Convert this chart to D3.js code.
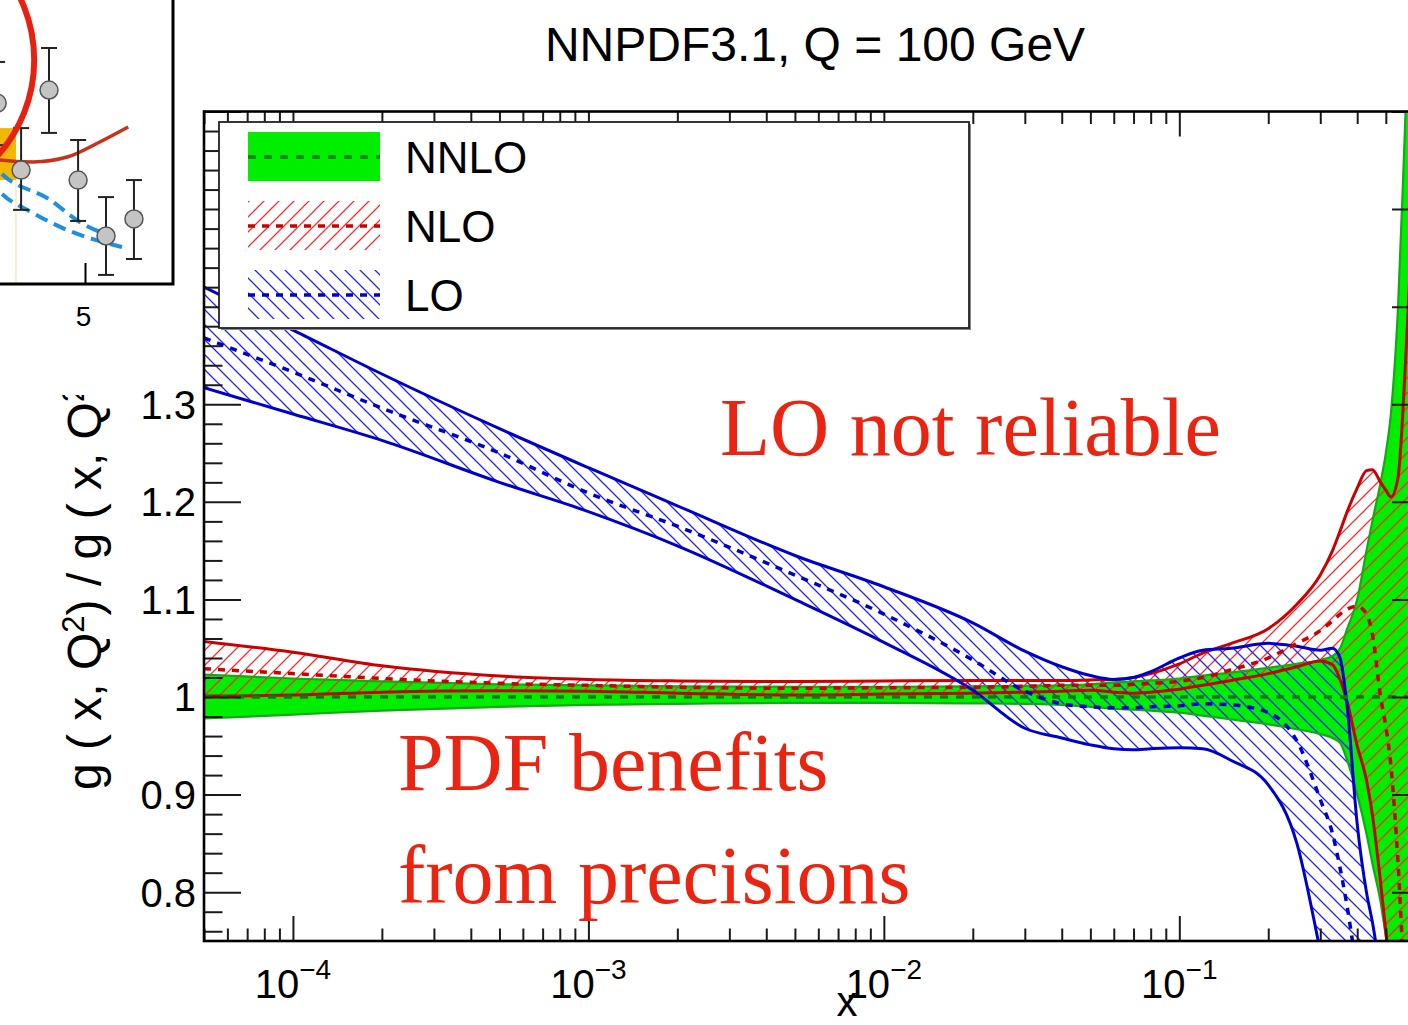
<!DOCTYPE html>
<html>
<head>
<meta charset="utf-8">
<script src="https://cdn.jsdelivr.net/npm/d3@7"></script>
<style>
  html, body { margin: 0; padding: 0; background: #fff; }
  svg { display: block; }
</style>
</head>
<body>
<svg id="chart" width="1408" height="1025"></svg>
<script>
// ---------------- DATA ----------------
const xGrid = [5e-5, 1e-4, 2e-4, 5e-4, 1e-3, 2e-3, 5e-3, 1e-2, 2e-2, 3e-2, 4e-2, 5e-2, 6e-2, 7e-2, 8e-2,
  0.1, 0.12, 0.15, 0.2, 0.25, 0.3, 0.33, 0.35, 0.37, 0.4, 0.43, 0.45, 0.48, 0.5, 0.52, 0.55, 0.58, 0.6, 0.65, 0.7];

const nnloHigh = [1.023, 1.019, 1.016, 1.013, 1.012, 1.011, 1.0105, 1.0105, 1.011, 1.0115, 1.012, 1.013, 1.015, 1.016, 1.017,
  1.019, 1.022, 1.025, 1.030, 1.034, 1.038, 1.042, 1.050, 1.070, 1.100, 1.150, 1.180, 1.220, 1.250, 1.290, 1.400, 1.580, 1.700, 1.900, 2.000];
const nnloLow = [0.978, 0.982, 0.986, 0.990, 0.992, 0.993, 0.994, 0.994, 0.9935, 0.993, 0.992, 0.990, 0.988, 0.987, 0.986,
  0.984, 0.981, 0.977, 0.972, 0.967, 0.962, 0.958, 0.953, 0.935, 0.900, 0.860, 0.830, 0.790, 0.755, 0.720, 0.700, 0.690, 0.680, 0.670, 0.660];
const nnloCentral = [1, 1, 1, 1, 1, 1, 1, 1, 1, 1, 1, 1, 1, 1, 1,
  1, 1, 1, 1, 1, 1, 1, 1, 1, 1, 1, 1, 1, 1, 1, 1, 1, 1, 1, 1];

const nloHigh = [1.057, 1.046, 1.032, 1.0215, 1.018, 1.0165, 1.0158, 1.0165, 1.017, 1.017, 1.017, 1.0175, 1.018, 1.020, 1.024,
  1.034, 1.045, 1.055, 1.070, 1.095, 1.125, 1.150, 1.170, 1.190, 1.214, 1.232, 1.233, 1.220, 1.212, 1.205, 1.225, 1.330, 1.420, 1.600, 1.800];
const nloLow = [1.001, 1.002, 1.005, 1.0065, 1.006, 1.004, 1.002, 1.003, 1.004, 1.005, 1.006, 1.007, 1.005, 1.004, 1.005,
  1.008, 1.012, 1.017, 1.024, 1.031, 1.037, 1.033, 1.018, 0.995, 0.950, 0.915, 0.880, 0.810, 0.760, 0.710, 0.660, 0.620, 0.600, 0.600, 0.600];
const nloCentral = [1.029, 1.024, 1.019, 1.014, 1.012, 1.010, 1.009, 1.0095, 1.010, 1.011, 1.012, 1.012, 1.012, 1.013, 1.014,
  1.016, 1.020, 1.028, 1.040, 1.055, 1.068, 1.078, 1.085, 1.090, 1.093, 1.085, 1.065, 1.000, 0.970, 0.930, 0.830, 0.700, 0.650, 0.600, 0.600];

const loHigh = [1.420, 1.376, 1.331, 1.275, 1.235, 1.196, 1.145, 1.113, 1.076, 1.047, 1.031, 1.022, 1.018, 1.020, 1.026,
  1.040, 1.048, 1.050, 1.055, 1.052, 1.048, 1.050, 1.040, 0.990, 0.870, 0.800, 0.770, 0.720, 0.700, 0.700, 0.700, 0.700, 0.700, 0.700, 0.700];
const loLow = [1.317, 1.290, 1.263, 1.220, 1.190, 1.155, 1.100, 1.056, 1.007, 0.968, 0.958, 0.951, 0.947, 0.946, 0.947,
  0.948, 0.947, 0.935, 0.910, 0.850, 0.740, 0.680, 0.650, 0.650, 0.650, 0.650, 0.650, 0.650, 0.650, 0.650, 0.650, 0.650, 0.650, 0.650, 0.650];
const loCentral = [1.368, 1.333, 1.296, 1.250, 1.209, 1.175, 1.125, 1.085, 1.038, 1.006, 0.993, 0.990, 0.989, 0.989, 0.990,
  0.991, 0.993, 0.992, 0.984, 0.955, 0.895, 0.860, 0.825, 0.785, 0.720, 0.680, 0.660, 0.650, 0.650, 0.650, 0.650, 0.650, 0.650, 0.650, 0.650];

const seriesNames = ["NNLO", "NLO", "LO"];

const xMajorTicks = [1e-4, 1e-3, 1e-2, 1e-1];
const xTickExponents = ["\u22124", "\u22123", "\u22122", "\u22121"];
const yMajorTicks = [0.8, 0.9, 1.0, 1.1, 1.2, 1.3, 1.4, 1.5, 1.6];
const yTickLabels = ["0.8", "0.9", "1", "1.1", "1.2", "1.3", "", "", ""];

const titleText = "NNPDF3.1, Q = 100 GeV";
const annotations = ["LO not reliable", "PDF benefits", "from precisions"];

// inset fragment (partially visible neighbouring chart)
const insetPointX = [3.45, 3.87, 4.36, 4.87, 5.36, 5.85];
const insetPointY = [6.37, 4.01, 6.83, 3.66, 1.69, 2.29];
const insetErrLow = [4.89, 2.61, 5.32, 2.22, 0.32, 0.88];
const insetErrHigh = [7.82, 5.49, 8.31, 5.07, 3.06, 3.66];
const insetRedX = [3.3, 3.5, 4.08, 4.68, 5.25, 5.75];
const insetRedY = [4.45, 4.37, 4.30, 4.47, 5.00, 5.53];
const insetBlueAX = [3.3, 3.5, 4.38, 4.9, 5.38];
const insetBlueAY = [4.40, 3.94, 2.96, 2.18, 1.73];
const insetBlueBX = [3.3, 3.5, 4.08, 4.68, 5.13, 5.64];
const insetBlueBY = [3.70, 3.24, 2.50, 1.90, 1.58, 1.30];
const insetTickValues = [5];

// ---------------- SETUP ----------------
const svg = d3.select("#chart");
const FONT = "'Liberation Sans', Arial, Helvetica, sans-serif";
const SERIF = "'Liberation Serif', 'Times New Roman', serif";

const x = d3.scaleLog().domain([5e-5, 0.7]).range([204, 1429]);
const y = d3.scaleLinear().domain([0.75, 1.6]).range([941, 111.5]);

const defs = svg.append("defs");
defs.append("clipPath").attr("id", "plotClip")
  .append("rect").attr("x", x.range()[0]).attr("y", y.range()[1])
  .attr("width", x.range()[1] - x.range()[0]).attr("height", y.range()[0] - y.range()[1]);

function hatch(id, color, forward) {
  const s = 15;
  const p = defs.append("pattern").attr("id", id).attr("patternUnits", "userSpaceOnUse")
    .attr("width", s).attr("height", s);
  const d = forward
    ? `M0,${s} L${s},0 M${-s/4},${s/4} L${s/4},${-s/4} M${3*s/4},${5*s/4} L${5*s/4},${3*s/4}`
    : `M0,0 L${s},${s} M${-s/4},${3*s/4} L${s/4},${5*s/4} M${3*s/4},${-s/4} L${5*s/4},${s/4}`;
  p.append("path").attr("d", d).attr("stroke", color).attr("stroke-width", 1.3).attr("fill", "none");
}
hatch("hatchRed", "#ff2a2a", true);
hatch("hatchBlue", "#2222ff", false);

const styles = [
  { fill: "#00ee00", edge: "#16a816", edgeW: 2.2, central: "#0b7d0b", dash: "8,8" },
  { fill: "url(#hatchRed)", edge: "#cc0000", edgeW: 3, central: "#cc0000", dash: "7,7" },
  { fill: "url(#hatchBlue)", edge: "#0000cc", edgeW: 3, central: "#0000cc", dash: "7,7" }
];
const lows = [nnloLow, nloLow, loLow];
const highs = [nnloHigh, nloHigh, loHigh];
const centrals = [nnloCentral, nloCentral, loCentral];

const areaGen = (lo, hi) => d3.area()
  .x((d, i) => x(xGrid[i])).y0((d, i) => y(lo[i])).y1((d, i) => y(hi[i]))
  .curve(d3.curveMonotoneX)(xGrid);
const lineGen = (vals) => d3.line()
  .x((d, i) => x(xGrid[i])).y((d, i) => y(vals[i]))
  .curve(d3.curveMonotoneX)(xGrid);

// ---------------- BANDS ----------------
const plot = svg.append("g").attr("clip-path", "url(#plotClip)");
const idx = [0, 1, 2];

plot.selectAll("path.band").data(idx).join("path").attr("class", "band")
  .attr("d", i => areaGen(lows[i], highs[i]))
  .attr("fill", i => styles[i].fill).attr("stroke", "none");

idx.forEach(i => {
  [lows[i], highs[i]].forEach(arr => {
    plot.append("path").attr("d", lineGen(arr)).attr("fill", "none")
      .attr("stroke", styles[i].edge).attr("stroke-width", styles[i].edgeW)
      .attr("stroke-linejoin", "round");
  });
});

plot.selectAll("path.central").data(idx).join("path").attr("class", "central")
  .attr("d", i => lineGen(centrals[i])).attr("fill", "none")
  .attr("stroke", i => styles[i].central).attr("stroke-width", 3.5)
  .attr("stroke-dasharray", i => styles[i].dash);

// ---------------- AXES ----------------
const xMinor = [];
[-5, -4, -3, -2, -1].forEach(e => {
  [2, 3, 4, 5, 6, 7, 8, 9].forEach(m => {
    const v = m * Math.pow(10, e);
    if (v >= 5e-5 && v <= 0.7) xMinor.push(v);
  });
});
const yMinor = d3.range(0.76, 1.6, 0.02).filter(v => Math.abs(Math.round(v * 10) - v * 10) > 0.05);

function styleAxis(g) {
  g.select(".domain").remove();
  g.selectAll(".tick line").attr("stroke", "#1a1a1a").attr("stroke-width", 2);
  g.selectAll(".tick text").remove();
}
const yB = y.range()[0], yT = y.range()[1], xL = x.range()[0], xR = x.range()[1];

svg.append("g").attr("transform", `translate(0,${yB})`)
  .call(d3.axisBottom(x).tickValues(xMajorTicks).tickSizeInner(-25).tickSizeOuter(0)).call(styleAxis);
svg.append("g").attr("transform", `translate(0,${yB})`)
  .call(d3.axisBottom(x).tickValues(xMinor).tickSizeInner(-12.5).tickSizeOuter(0)).call(styleAxis);
svg.append("g").attr("transform", `translate(0,${yT})`)
  .call(d3.axisTop(x).tickValues(xMajorTicks).tickSizeInner(-25).tickSizeOuter(0)).call(styleAxis);
svg.append("g").attr("transform", `translate(0,${yT})`)
  .call(d3.axisTop(x).tickValues(xMinor).tickSizeInner(-12.5).tickSizeOuter(0)).call(styleAxis);
svg.append("g").attr("transform", `translate(${xL},0)`)
  .call(d3.axisLeft(y).tickValues(yMajorTicks).tickSizeInner(-37).tickSizeOuter(0)).call(styleAxis);
svg.append("g").attr("transform", `translate(${xL},0)`)
  .call(d3.axisLeft(y).tickValues(yMinor).tickSizeInner(-18.5).tickSizeOuter(0)).call(styleAxis);
svg.append("g").attr("transform", `translate(${xR},0)`)
  .call(d3.axisRight(y).tickValues(yMajorTicks).tickSizeInner(-37).tickSizeOuter(0)).call(styleAxis);
svg.append("g").attr("transform", `translate(${xR},0)`)
  .call(d3.axisRight(y).tickValues(yMinor).tickSizeInner(-18.5).tickSizeOuter(0)).call(styleAxis);

// frame
svg.append("rect").attr("x", xL).attr("y", yT).attr("width", xR - xL).attr("height", yB - yT)
  .attr("fill", "none").attr("stroke", "#000").attr("stroke-width", 2.6);

// y tick labels
svg.append("g").selectAll("text").data(yMajorTicks.map((v, i) => ({ v, t: yTickLabels[i] })).filter(d => d.t))
  .join("text").attr("x", 196).attr("y", d => y(d.v)).attr("dy", "0.36em")
  .attr("text-anchor", "end").attr("font-family", FONT).attr("font-size", 40).attr("fill", "#000")
  .text(d => d.t);

// x tick labels (10^n)
const xl = svg.append("g").selectAll("text").data(xMajorTicks.map((v, i) => ({ v, e: xTickExponents[i] })))
  .join("text").attr("x", d => x(d.v)).attr("y", 998).attr("text-anchor", "middle")
  .attr("font-family", FONT).attr("font-size", 40).attr("fill", "#000");
xl.append("tspan").text("10");
xl.append("tspan").attr("dy", -19).attr("font-size", 28).text(d => d.e);

// axis titles
svg.append("text").attr("x", 847).attr("y", 1016).attr("text-anchor", "middle")
  .attr("font-family", FONT).attr("font-size", 42).text("x");

defs.append("clipPath").attr("id", "ytitleClip")
  .append("rect").attr("x", 0).attr("y", 395).attr("width", 200).attr("height", 630);
const yt = svg.append("g").attr("clip-path", "url(#ytitleClip)")
  .append("text").attr("transform", "translate(101,790) rotate(-90)")
  .attr("font-family", FONT).attr("font-size", 48).attr("fill", "#000");
yt.append("tspan").text("g ( x, Q");
yt.append("tspan").attr("dy", -17).attr("font-size", 31).text("2");
yt.append("tspan").attr("dy", 17).text(") / g ( x, Q");
yt.append("tspan").attr("dy", -17).attr("font-size", 31).text("2");
yt.append("tspan").attr("dy", 17).text(")");

// title
svg.append("text").attr("x", 815).attr("y", 61).attr("text-anchor", "middle")
  .attr("font-family", FONT).attr("font-size", 48).attr("fill", "#000").text(titleText);

// ---------------- LEGEND ----------------
const leg = svg.append("g");
leg.append("rect").attr("x", 221).attr("y", 124).attr("width", 750).attr("height", 206)
  .attr("fill", "#888").attr("stroke", "none");
leg.append("rect").attr("x", 219).attr("y", 122).attr("width", 750).attr("height", 206)
  .attr("fill", "#fff").attr("stroke", "#222").attr("stroke-width", 1.8);
const rowY = [157, 226, 295];
const entries = leg.selectAll("g.entry").data(idx).join("g").attr("class", "entry");
entries.append("rect").attr("x", 248).attr("y", i => rowY[i] - 25).attr("width", 132).attr("height", 49)
  .attr("fill", i => styles[i].fill);
entries.append("line").attr("x1", 248).attr("x2", 380).attr("y1", i => rowY[i]).attr("y2", i => rowY[i])
  .attr("stroke", i => styles[i].central).attr("stroke-width", 3.5).attr("stroke-dasharray", i => styles[i].dash);
entries.append("text").attr("x", 405).attr("y", i => rowY[i] + 15.5)
  .attr("font-family", FONT).attr("font-size", 44).attr("fill", "#000").text(i => seriesNames[i]);

// ---------------- ANNOTATIONS ----------------
const annPos = [[720, 455], [398, 790], [398, 903]];
svg.append("g").selectAll("text").data(annotations).join("text")
  .attr("x", (d, i) => annPos[i][0]).attr("y", (d, i) => annPos[i][1])
  .attr("font-family", SERIF).attr("font-size", 82).attr("fill", "#ea2410").text(d => d);

// ---------------- INSET FRAGMENT ----------------
const ix = d3.scaleLinear().domain([3.5, 6.535]).range([0, 173]);
const iy = d3.scaleLinear().domain([0, 10]).range([284, 0]);
const inset = svg.append("g");
inset.append("rect").attr("x", ix(3.3)).attr("y", iy(5.49)).attr("width", ix(3.78) - ix(3.3))
  .attr("height", iy(3.66) - iy(5.49)).attr("fill", "#f2b705");
inset.append("line").attr("x1", ix(3.78)).attr("x2", ix(3.78)).attr("y1", iy(3.66)).attr("y2", iy(0))
  .attr("stroke", "#f6e7c4").attr("stroke-width", 1.5);
inset.append("path").attr("d", d3.line().x((d, i) => ix(insetRedX[i])).y((d, i) => iy(insetRedY[i])).curve(d3.curveMonotoneX)(insetRedX))
  .attr("fill", "none").attr("stroke", "#c8321a").attr("stroke-width", 3.5);
[[insetBlueAX, insetBlueAY], [insetBlueBX, insetBlueBY]].forEach(([xs, ys]) => {
  inset.append("path").attr("d", d3.line().x((d, i) => ix(xs[i])).y((d, i) => iy(ys[i])).curve(d3.curveMonotoneX)(xs))
    .attr("fill", "none").attr("stroke", "#1e90e0").attr("stroke-width", 4).attr("stroke-dasharray", "13,7");
});
const pts = inset.selectAll("g.pt").data(insetPointX.map((v, i) => i)).join("g").attr("class", "pt");
pts.append("line").attr("x1", i => ix(insetPointX[i])).attr("x2", i => ix(insetPointX[i]))
  .attr("y1", i => iy(insetErrLow[i])).attr("y2", i => iy(insetErrHigh[i])).attr("stroke", "#222").attr("stroke-width", 2);
[insetErrLow, insetErrHigh].forEach(arr => {
  pts.append("line").attr("x1", i => ix(insetPointX[i]) - 8).attr("x2", i => ix(insetPointX[i]) + 8)
    .attr("y1", i => iy(arr[i])).attr("y2", i => iy(arr[i])).attr("stroke", "#222").attr("stroke-width", 2);
});
pts.append("circle").attr("cx", i => ix(insetPointX[i])).attr("cy", i => iy(insetPointY[i])).attr("r", 9)
  .attr("fill", "#c4c4c4").attr("stroke", "#555").attr("stroke-width", 1.5);
// annotation ellipse drawn on the slide
inset.append("ellipse").attr("cx", ix(1.57)).attr("cy", iy(7.89))
  .attr("rx", ix(1.57 + 2.53) - ix(1.57)).attr("ry", iy(7.89 - 5.07) - iy(7.89))
  .attr("fill", "none").attr("stroke", "#e82010").attr("stroke-width", 6);
// inset frame
inset.append("path").attr("d", `M${ix(6.535)},0 L${ix(6.535)},${iy(0)} L0,${iy(0)}`)
  .attr("fill", "none").attr("stroke", "#000").attr("stroke-width", 3);
inset.selectAll("line.itk").data(insetTickValues).join("line").attr("class", "itk")
  .attr("x1", d => ix(d)).attr("x2", d => ix(d)).attr("y1", iy(0)).attr("y2", iy(0) - 21)
  .attr("stroke", "#000").attr("stroke-width", 2);
inset.selectAll("text.itl").data(insetTickValues).join("text").attr("class", "itl")
  .attr("x", d => ix(d) - 2).attr("y", 326).attr("text-anchor", "middle")
  .attr("font-family", FONT).attr("font-size", 28).text(d => d);
</script>
</body>
</html>
